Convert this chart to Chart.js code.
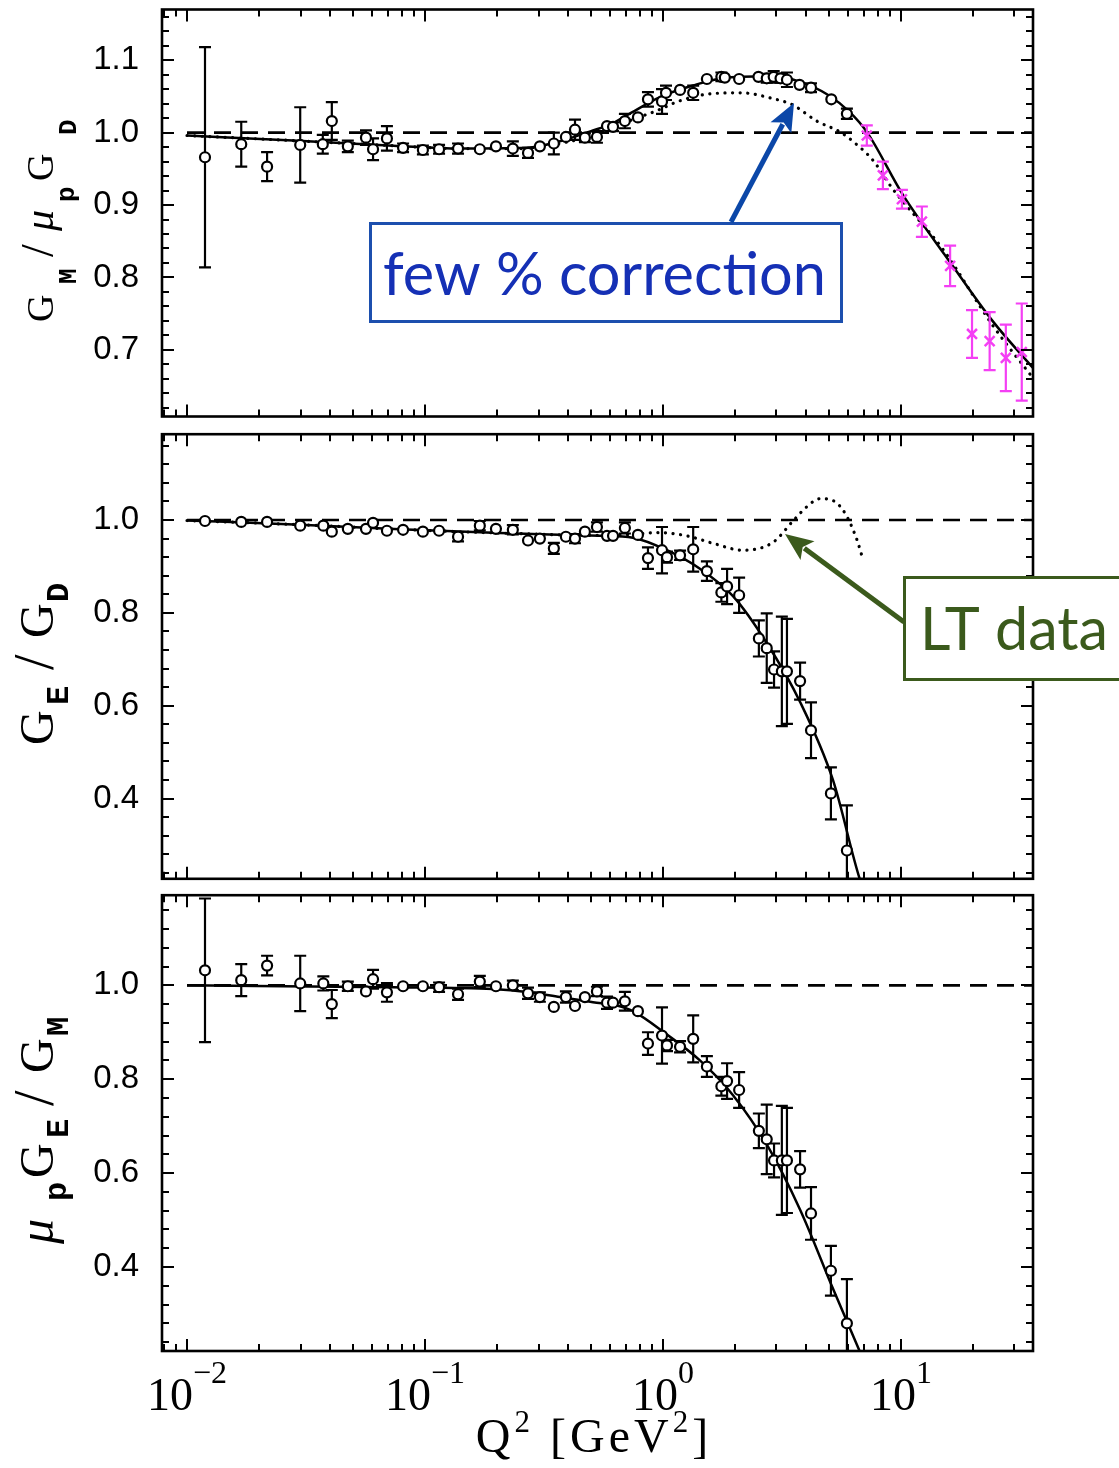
<!DOCTYPE html>
<html>
<head>
<meta charset="utf-8">
<script src="https://cdn.jsdelivr.net/npm/chart.js@4.4.0/dist/chart.umd.min.js"></script>
<style>
  html, body { margin: 0; padding: 0; background: #fff; }
  #wrap { position: relative; width: 1119px; height: 1468px; overflow: hidden; }
  canvas { position: absolute; left: 0; }
</style>
</head>
<body>
<div id="wrap">
  <canvas id="cTop" width="1119" height="426" style="top:0px"></canvas>
  <canvas id="cMid" width="1119" height="459" style="top:427px"></canvas>
  <canvas id="cBot" width="1119" height="580" style="top:888px"></canvas>
</div>
<script>
// x range of the three panels (Q^2 in GeV^2)
const xMin = 0.00785, xMax = 35.9;
const xMajor = [0.01, 0.1, 1, 10];
const xLabelExp = ['\u22122', '\u22121', '0', '1'];

// top panel: G_M / mu_p G_D
const q2GM = [0.0119,0.0169,0.0217,0.0299,0.0372,0.0406,0.0474,0.0565,0.0605,0.0692,
  0.0809,0.0980,0.1146,0.1377,0.170,0.1987,0.234,0.271,0.304,0.348,
  0.391,0.427,0.47,0.528,0.582,0.617,0.692,0.785,0.865,0.991,
  1.03,1.18,1.34,1.53,1.76,1.82,2.09,2.52,2.73,2.92,
  3.12,3.32,3.75,4.19,5.1,5.93];
const gmRatio = [0.966,0.984,0.953,0.983,0.984,1.016,0.981,0.993,0.977,0.992,
  0.979,0.976,0.977,0.978,0.977,0.981,0.978,0.972,0.981,0.985,
  0.994,1.004,0.993,0.994,1.009,1.008,1.016,1.021,1.046,1.043,
  1.055,1.059,1.055,1.074,1.077,1.076,1.074,1.077,1.075,1.077,
  1.075,1.073,1.066,1.062,1.046,1.026];
const gmRatioErr = [0.152,0.031,0.020,0.052,0.013,0.026,0.008,0.010,0.015,0.017,
  0.006,0.006,0.006,0.007,0.005,0.003,0.010,0.007,0.005,0.015,
  0.005,0.014,0.006,0.008,0.005,0.006,0.010,0.004,0.010,0.017,
  0.010,0.004,0.010,0.004,0.006,0.005,0.004,0.005,0.006,0.008,
  0.006,0.010,0.004,0.006,0.004,0.007];
// high Q^2 points (magenta crosses)
const q2Hi = [7.19, 8.4, 10.1, 12.25, 16.1, 19.9, 23.6, 27.6, 32.2];
const gmHi = [0.996, 0.941, 0.908, 0.877, 0.816, 0.722, 0.712, 0.689, 0.697];
const gmHiErr = [0.014, 0.019, 0.013, 0.021, 0.028, 0.033, 0.040, 0.046, 0.067];
// curves
const fitQGM = [0.01,0.0279,0.0735,0.140,0.268,0.369,0.508,0.599,0.706,0.971,1.336,1.857,3.01,3.77,4.89,6.11,7.19,10.2,16.1,24.4,35.9];
const fitGM  = [0.996,0.989,0.982,0.978,0.979,0.988,1.003,1.011,1.024,1.049,1.065,1.076,1.078,1.070,1.053,1.028,1.001,0.914,0.821,0.739,0.675];
const dotQGM = [0.01,0.0279,0.0735,0.140,0.268,0.369,0.508,0.706,0.971,1.156,1.53,2.11,2.90,3.52,4.43,5.54,6.28,7.62,9.25,15.0,24.4,35.9];
const dotGM  = [0.996,0.989,0.982,0.978,0.978,0.985,0.996,1.015,1.032,1.043,1.053,1.055,1.047,1.038,1.016,1.001,0.988,0.962,0.922,0.839,0.733,0.661];

// middle and bottom panels share Q^2 values
const q2E = [0.0119,0.0169,0.0217,0.0299,0.0374,0.0406,0.0474,0.0565,0.0605,0.0692,
  0.0809,0.0980,0.1146,0.1377,0.170,0.1987,0.234,0.271,0.304,0.348,
  0.391,0.427,0.47,0.528,0.582,0.617,0.692,0.785,0.865,0.991,
  1.04,1.18,1.34,1.53,1.76,1.86,2.09,2.53,2.73,2.93,
  3.16,3.32,3.77,4.19,5.08,5.93];
const geRatio = [0.998,0.996,0.996,0.988,0.988,0.975,0.981,0.981,0.994,0.977,
  0.979,0.975,0.977,0.964,0.988,0.981,0.979,0.956,0.960,0.939,
  0.964,0.960,0.975,0.985,0.966,0.966,0.983,0.968,0.918,0.935,
  0.920,0.924,0.937,0.890,0.844,0.857,0.838,0.745,0.724,0.678,
  0.674,0.674,0.653,0.547,0.411,0.288];
const geRatioErr = [0.004,0.004,0.004,0.003,0.004,0.004,0.003,0.004,0.004,0.003,
  0.003,0.003,0.003,0.010,0.010,0.004,0.010,0.004,0.004,0.012,
  0.004,0.010,0.004,0.010,0.006,0.006,0.012,0.004,0.023,0.050,
  0.012,0.010,0.048,0.021,0.020,0.038,0.038,0.039,0.075,0.039,
  0.118,0.113,0.040,0.060,0.056,0.097];
const fitQGE = [0.01,0.0299,0.0785,0.2065,0.543,0.748,1.04,1.43,1.97,2.73,3.77,5.18,6.73,7.41];
const fitGE  = [0.999,0.990,0.980,0.972,0.966,0.962,0.935,0.895,0.836,0.735,0.608,0.44,0.225,0.17];
const dotQGE = [0.01,0.0299,0.0785,0.2065,0.543,0.80,0.925,1.26,1.62,2.17,2.90,3.52,4.03,4.57,5.18,5.82,6.53,6.92];
const dotGE  = [0.999,0.990,0.980,0.972,0.967,0.970,0.973,0.966,0.950,0.935,0.952,0.998,1.029,1.046,1.042,1.015,0.958,0.916];

// bottom panel: mu_p G_E / G_M
const muRatio = [1.032,1.011,1.042,1.004,1.004,0.960,0.998,0.987,1.013,0.985,
  0.998,0.998,0.996,0.981,1.008,0.998,1.000,0.983,0.975,0.954,
  0.975,0.956,0.975,0.987,0.963,0.963,0.966,0.945,0.876,0.893,
  0.872,0.869,0.886,0.827,0.785,0.796,0.777,0.690,0.672,0.627,
  0.627,0.627,0.608,0.514,0.392,0.280];
const muRatioErr = [0.153,0.034,0.021,0.059,0.015,0.030,0.010,0.008,0.020,0.020,
  0.004,0.004,0.010,0.012,0.012,0.005,0.010,0.012,0.010,0.004,
  0.012,0.004,0.004,0.010,0.013,0.006,0.020,0.004,0.024,0.060,
  0.012,0.012,0.050,0.022,0.020,0.038,0.038,0.037,0.074,0.036,
  0.116,0.112,0.039,0.056,0.053,0.094];
const fitQMu = [0.01,0.0735,0.193,0.268,0.369,0.508,0.641,0.748,1.04,1.43,1.97,2.73,3.77,5.18,6.73,7.41];
const fitMu  = [1.0,0.996,0.992,0.986,0.975,0.964,0.957,0.945,0.895,0.84,0.766,0.661,0.522,0.354,0.219,0.17];

const unityQ = [0.01, 35.9];
const unityV = [1, 1];

const yLabelsTop = [0.7, 0.8, 0.9, 1.0, 1.1];
const yLabelsLow = [0.4, 0.6, 0.8, 1.0];

const SERIF = "'Liberation Serif', 'DejaVu Serif', serif";
const MONO = "'Liberation Mono', 'DejaVu Sans Mono', monospace";
const SANS = "'Liberation Sans', Arial, sans-serif";
const GILL = "Lato, 'Open Sans', sans-serif";
const MAG = '#f43ff4';

const pts = (xs, ys) => xs.map((x, i) => ({ x: x, y: ys[i] }));

function xMinorTicks() {
  const out = [];
  for (let e = -3; e <= 1; e++) {
    for (let k = 2; k <= 9; k++) {
      const v = k * Math.pow(10, e);
      if (v > xMin && v < xMax) out.push(v);
    }
  }
  return out;
}
function yMinorTicks(lo, hi, step) {
  const out = [];
  for (let v = Math.ceil(lo / step) * step; v < hi; v += step) out.push(+v.toFixed(3));
  return out;
}

// error bars, drawn just before the points of the dataset
const errorBars = {
  id: 'errorBars',
  beforeDatasetDraw(chart, args) {
    const ds = chart.data.datasets[args.index];
    if (!ds.errs) return;
    const { ctx, chartArea: a, scales: { x, y } } = chart;
    ctx.save();
    ctx.beginPath();
    ctx.rect(a.left, a.top, a.right - a.left, a.bottom - a.top);
    ctx.clip();
    ctx.strokeStyle = ds.borderColor;
    ctx.lineWidth = 2.2;
    ds.data.forEach((p, i) => {
      const e = ds.errs[i];
      const px = x.getPixelForValue(p.x);
      const y1 = y.getPixelForValue(p.y + e);
      const y2 = y.getPixelForValue(p.y - e);
      if (y2 - y1 < 8) return;
      ctx.beginPath();
      ctx.moveTo(px, y1); ctx.lineTo(px, y2);
      ctx.moveTo(px - 6, y1); ctx.lineTo(px + 6, y1);
      ctx.moveTo(px - 6, y2); ctx.lineTo(px + 6, y2);
      ctx.stroke();
    });
    ctx.restore();
  }
};

// box with inward ticks on all four sides
function framePlugin(yMajor, yMinor) {
  const xMin_ = xMinorTicks();
  return {
    id: 'frame',
    afterDatasetsDraw(chart) {
      const { ctx, chartArea: a, scales: { x, y } } = chart;
      ctx.save();
      ctx.strokeStyle = '#000';
      ctx.lineWidth = 2;
      ctx.beginPath();
      const xt = (v, len) => {
        const px = Math.round(x.getPixelForValue(v));
        ctx.moveTo(px, a.bottom); ctx.lineTo(px, a.bottom - len);
        ctx.moveTo(px, a.top); ctx.lineTo(px, a.top + len);
      };
      const yt = (v, len) => {
        const py = Math.round(y.getPixelForValue(v));
        ctx.moveTo(a.left, py); ctx.lineTo(a.left + len, py);
        ctx.moveTo(a.right, py); ctx.lineTo(a.right - len, py);
      };
      xMajor.forEach(v => xt(v, 12));
      xMin_.forEach(v => xt(v, 7));
      yMajor.forEach(v => yt(v, 12));
      yMinor.forEach(v => yt(v, 7));
      ctx.stroke();
      ctx.lineWidth = 2.6;
      ctx.strokeRect(a.left, a.top, a.right - a.left, a.bottom - a.top);
      ctx.restore();
    }
  };
}

// rotated axis title: each glyph placed at the page position where it starts
function vTitle(ctx, parts, baseX) {
  ctx.save();
  ctx.translate(baseX, 0);
  ctx.rotate(-Math.PI / 2);
  ctx.fillStyle = '#000';
  ctx.textAlign = 'left';
  ctx.textBaseline = 'alphabetic';
  parts.forEach(p => {
    ctx.font = p.f;
    ctx.fillText(p.t, -p.at, p.dy || 0);
  });
  ctx.restore();
}

function richWidth(ctx, parts) {
  let w = 0;
  parts.forEach(p => { ctx.font = p.f; w += ctx.measureText(p.t).width; });
  return w;
}
function richLine(ctx, parts, cx, base) {
  let x = cx - richWidth(ctx, parts) / 2;
  ctx.textAlign = 'left';
  ctx.textBaseline = 'alphabetic';
  parts.forEach(p => {
    ctx.font = p.f;
    ctx.fillText(p.t, x, base + (p.dy || 0));
    x += ctx.measureText(p.t).width;
  });
}

function fitText(ctx, text, family, left, base, width, color) {
  ctx.font = '100px ' + family;
  const size = 100 * width / ctx.measureText(text).width;
  ctx.font = size.toFixed(1) + 'px ' + family;
  ctx.fillStyle = color;
  ctx.textAlign = 'left';
  ctx.textBaseline = 'alphabetic';
  ctx.fillText(text, left, base);
}

function arrow(ctx, x1, y1, x2, y2, color, w, head) {
  const ang = Math.atan2(y2 - y1, x2 - x1);
  const c = Math.cos(ang), s = Math.sin(ang);
  const bx = x2 - head * c, by = y2 - head * s;
  ctx.strokeStyle = color;
  ctx.lineWidth = w;
  ctx.beginPath();
  ctx.moveTo(x1, y1);
  ctx.lineTo(bx + 4 * c, by + 4 * s);
  ctx.stroke();
  ctx.fillStyle = color;
  ctx.beginPath();
  ctx.moveTo(x2, y2);
  ctx.lineTo(bx + head * 0.42 * s, by - head * 0.42 * c);
  ctx.lineTo(bx + 6 * c, by + 6 * s);
  ctx.lineTo(bx - head * 0.42 * s, by + head * 0.42 * c);
  ctx.closePath();
  ctx.fill();
}

function curve(xs, ys, dashed) {
  const d = {
    data: pts(xs, ys),
    showLine: true,
    pointRadius: 0,
    borderColor: '#000',
    borderWidth: 2.5,
    cubicInterpolationMode: 'monotone'
  };
  if (dashed) {
    d.borderDash = [0.1, 7.5];
    d.borderWidth = 3.2;
    d.borderCapStyle = 'round';
  }
  return d;
}
function unity() {
  return {
    data: pts(unityQ, unityV),
    showLine: true,
    pointRadius: 0,
    borderColor: '#000',
    borderWidth: 2.6,
    borderDash: [17, 10]
  };
}
function circles(xs, ys, errs) {
  return {
    data: pts(xs, ys),
    errs: errs,
    pointStyle: 'circle',
    pointRadius: 5,
    borderWidth: 2.2,
    borderColor: '#000',
    backgroundColor: '#fff'
  };
}

function panel(id, cfg) {
  return new Chart(document.getElementById(id), {
    type: 'scatter',
    data: { datasets: cfg.datasets },
    options: {
      responsive: false,
      animation: false,
      events: [],
      layout: { padding: { top: cfg.padTop, bottom: cfg.padBottom, left: 0, right: 86 } },
      plugins: { legend: { display: false }, tooltip: { enabled: false } },
      scales: {
        x: { type: 'logarithmic', min: xMin, max: xMax, display: false },
        y: {
          type: 'linear',
          min: cfg.yMin,
          max: cfg.yMax,
          afterBuildTicks: s => { s.ticks = cfg.yLabels.map(v => ({ value: v })); },
          afterFit: s => { s.width = 162; s.paddingTop = 0; s.paddingBottom = 0; },
          grid: { display: false },
          border: { display: false },
          ticks: {
            autoSkip: false,
            color: '#000',
            padding: 15,
            font: { family: SANS, size: 33 },
            callback: v => Number(v).toFixed(1)
          }
        }
      }
    },
    plugins: [errorBars, framePlugin(cfg.yLabels, cfg.yMinor), { id: 'deco', afterDraw: cfg.deco }]
  });
}

// ---- top panel ----
panel('cTop', {
  padTop: 8, padBottom: 2,
  yMin: 0.608, yMax: 1.170,
  yLabels: yLabelsTop,
  yMinor: yMinorTicks(0.608, 1.170, 0.02),
  datasets: [
    {
      data: pts(q2Hi, gmHi), errs: gmHiErr,
      pointStyle: 'crossRot', pointRadius: 7, borderWidth: 2.5,
      borderColor: MAG, backgroundColor: MAG
    },
    circles(q2GM, gmRatio, gmRatioErr),
    curve(fitQGM, fitGM, false),
    curve(dotQGM, dotGM, true),
    unity()
  ],
  deco: chart => {
    const ctx = chart.ctx;
    const S = '38px ' + SERIF, sub = 'bold 26px ' + MONO;
    vTitle(ctx, [
      { t: 'G', f: S, at: 322 },
      { t: 'M', f: sub, at: 284, dy: 23 },
      { t: '/', f: '46px ' + SERIF, at: 257 },
      { t: '\u03bc', f: 'italic 42px ' + SERIF, at: 231 },
      { t: 'p', f: sub, at: 202, dy: 21 },
      { t: 'G', f: S, at: 181 },
      { t: 'D', f: sub, at: 135, dy: 23 }
    ], 53);
    ctx.save();
    ctx.fillStyle = '#fff';
    ctx.fillRect(369, 222, 474, 101);
    ctx.strokeStyle = '#1c4fae';
    ctx.lineWidth = 3;
    ctx.strokeRect(370.5, 223.5, 471, 98);
    fitText(ctx, 'few % correction', GILL, 383, 295, 443, '#1530b5');
    arrow(ctx, 731, 222, 794, 103, '#0b47a8', 5, 28);
    ctx.restore();
  }
});

// ---- middle panel ----
panel('cMid', {
  padTop: 2, padBottom: 2,
  yMin: 0.227, yMax: 1.185,
  yLabels: yLabelsLow,
  yMinor: yMinorTicks(0.227, 1.185, 0.04),
  datasets: [
    circles(q2E, geRatio, geRatioErr),
    curve(fitQGE, fitGE, false),
    curve(dotQGE, dotGE, true),
    unity()
  ],
  deco: chart => {
    const ctx = chart.ctx;
    const S = '48px ' + SERIF, sub = 'bold 32px ' + MONO;
    vTitle(ctx, [
      { t: 'G', f: S, at: 318 },
      { t: 'E', f: sub, at: 278, dy: 15 },
      { t: '/', f: '56px ' + SERIF, at: 243 },
      { t: 'G', f: S, at: 211 },
      { t: 'D', f: sub, at: 175, dy: 15 }
    ], 53);
    ctx.save();
    ctx.fillStyle = '#fff';
    ctx.fillRect(903, 149, 230, 105);
    ctx.strokeStyle = '#3b5a1c';
    ctx.lineWidth = 3;
    ctx.strokeRect(904.5, 150.5, 230, 102);
    fitText(ctx, 'LT data', GILL, 920, 223, 188, '#3b5a1c');
    arrow(ctx, 904, 195, 785, 107, '#3b5a1c', 5, 28);
    ctx.restore();
  }
});

// ---- bottom panel ----
panel('cBot', {
  padTop: 2, padBottom: 117,
  yMin: 0.221, yMax: 1.192,
  yLabels: yLabelsLow,
  yMinor: yMinorTicks(0.221, 1.192, 0.04),
  datasets: [
    circles(q2E, muRatio, muRatioErr),
    curve(fitQMu, fitMu, false),
    unity()
  ],
  deco: chart => {
    const ctx = chart.ctx;
    const S = '48px ' + SERIF, sub = 'bold 32px ' + MONO;
    vTitle(ctx, [
      { t: '\u03bc', f: 'italic 50px ' + SERIF, at: 356 },
      { t: 'p', f: sub, at: 313, dy: 13 },
      { t: 'G', f: S, at: 290 },
      { t: 'E', f: sub, at: 250, dy: 15 },
      { t: '/', f: '56px ' + SERIF, at: 218 },
      { t: 'G', f: S, at: 185 },
      { t: 'M', f: sub, at: 148, dy: 15 }
    ], 53);
    // x tick labels 10^n
    const x = chart.scales.x;
    const base = chart.chartArea.bottom + 59;
    ctx.save();
    ctx.fillStyle = '#000';
    xMajor.forEach((v, i) => {
      richLine(ctx, [
        { t: '10', f: '46px ' + SERIF },
        { t: xLabelExp[i], f: '32px ' + SERIF, dy: -27 }
      ], x.getPixelForValue(v), base);
    });
    // x axis title
    ctx.letterSpacing = '4px';
    richLine(ctx, [
      { t: 'Q', f: '48px ' + SERIF },
      { t: '2', f: '31px ' + SERIF, dy: -20 },
      { t: ' [GeV', f: '48px ' + SERIF },
      { t: '2', f: '31px ' + SERIF, dy: -20 },
      { t: ']', f: '48px ' + SERIF }
    ], 594, chart.chartArea.bottom + 101);
    ctx.letterSpacing = '0px';
    ctx.restore();
  }
});
</script>
</body>
</html>
